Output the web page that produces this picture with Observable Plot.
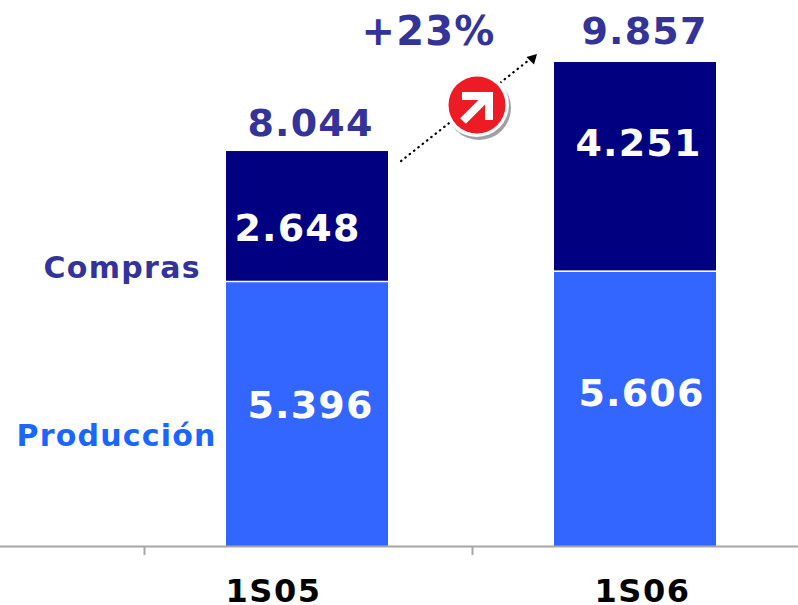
<!DOCTYPE html>
<html>
<head>
<meta charset="utf-8">
<script src="https://cdn.jsdelivr.net/npm/d3@7"></script>
<script src="https://cdn.jsdelivr.net/npm/@observablehq/plot@0.6"></script>
<style>
html,body{margin:0;padding:0;background:#fff}
svg{display:block}
</style>
</head>
<body>
<div id="chart"></div>
<script>
const periods = ["1S05", "1S06"];
const produccion = [5396, 5606];
const compras = [2648, 4251];
const totals = [8044, 9857];
const growthLabel = "+23%";
const seriesNames = ["Producción", "Compras"];

const fmt = v => d3.format(",")(v).replace(",", ".");
const rows = periods.flatMap((p, i) => [
  {period: p, serie: seriesNames[0], value: produccion[i], y1: 0, y2: produccion[i]},
  {period: p, serie: seriesNames[1], value: compras[i], y1: produccion[i], y2: totals[i]}
]);

const FONT = "'DejaVu Sans', Verdana, sans-serif";
const NAVY = "#000080", BLUE = "#3366ff", INK = "#333399";

function spaced(px) {
  return (index, scales, values, dims, ctx, next) => {
    const node = next(index, scales, values, dims, ctx);
    node.style.letterSpacing = px + "px";
    return node;
  };
}
const valueText = (value, period, y, dx, dy, fill) =>
  Plot.text([fmt(value)], {
    x: () => period, y: () => y, text: d => d, dx, dy, fill,
    fontSize: 38, fontWeight: 700, textAnchor: "middle", lineAnchor: "middle",
    render: spaced(1.2)
  });
const cornerText = (text, dx, dy, fill, fontSize, spacing) =>
  Plot.text([text], {
    frameAnchor: "top-left", dx, dy, text: d => d, fill, fontSize,
    fontWeight: 700, textAnchor: "start", lineAnchor: "middle",
    render: spaced(spacing)
  });
const periodText = (period, dx) =>
  Plot.text([period], {
    x: d => d, y: () => 0, text: d => d, dy: 45, dx, fill: "#000",
    fontSize: 32, fontWeight: 700, textAnchor: "middle",
    render: spaced(1.6)
  });

function growthArrow(index, scales) {
  const g = d3.create("svg:g");
  const bw = typeof scales.x.bandwidth === "function" ? scales.x.bandwidth() : scales.x.bandwidth;
  const x0 = scales.x(periods[0]) + bw + 13;
  const y0 = scales.y(totals[0]) + 10;
  const x1 = scales.x(periods[1]) - 17;
  const y1 = scales.y(totals[1]) - 8;
  const cx = 477, cy = 105;
  g.append("line").attr("x1", x0).attr("y1", y0).attr("x2", x1 - 8).attr("y2", y1 + 6)
    .attr("stroke", "#000").attr("stroke-width", 2.2)
    .attr("stroke-linecap", "round").attr("stroke-dasharray", "0.5 5");
  g.append("path").attr("d", `M${x1},${y1}L${x1 - 10.5},${y1 + 3}L${x1 - 3},${y1 + 10.5}Z`).attr("fill", "#000");
  g.append("circle").attr("cx", cx + 2).attr("cy", cy + 3).attr("r", 32).attr("fill", "#a0a0a0");
  g.append("circle").attr("cx", cx - 0.5).attr("cy", cy - 0.5).attr("r", 32.5).attr("fill", "#fff");
  g.append("circle").attr("cx", cx).attr("cy", cy).attr("r", 28.5).attr("fill", "#ed1c24");
  g.append("path").attr("d", `M${cx - 14},${cy + 16}L${cx + 9},${cy - 7}`)
    .attr("stroke", "#fff").attr("stroke-width", 8).attr("fill", "none");
  g.append("path").attr("d", `M${cx - 15},${cy - 9}H${cx + 12}V${cy + 15}`)
    .attr("stroke", "#fff").attr("stroke-width", 8).attr("fill", "none");
  return g.node();
}

const chart = Plot.plot({
  width: 798,
  height: 605,
  marginLeft: 0, marginRight: 0, marginTop: 0, marginBottom: 0,
  style: {fontFamily: FONT, background: "#fff"},
  x: {domain: periods, range: [143, 800], paddingInner: 0.506, paddingOuter: 0.253, align: 0.5, axis: null},
  y: {domain: [0, 11120], range: [546, 0], axis: null},
  marks: [
    Plot.barY(rows, {x: "period", y1: "y1", y2: "y2", fill: d => d.serie === "Compras" ? NAVY : BLUE}),
    Plot.tickY(rows.filter(d => d.serie === "Compras"), {x: "period", y: "y1", stroke: "#fff", strokeWidth: 1.5}),
    Plot.ruleY([0], {stroke: "#a6a6a6", strokeWidth: 2}),
    Plot.ruleX(periods, {x: d => d, y1: 0, y2: -185, dx: -163, stroke: "#a6a6a6", strokeWidth: 2}),
    valueText(compras[0], periods[0], produccion[0] + compras[0] / 2, -10, 12, "#fff"),
    valueText(produccion[0], periods[0], produccion[0] / 2, 3, -8, "#fff"),
    valueText(compras[1], periods[1], produccion[1] + compras[1] / 2, 3, -23, "#fff"),
    valueText(produccion[1], periods[1], produccion[1] / 2, 6, -15, "#fff"),
    valueText(totals[0], periods[0], totals[0], 3, -28, INK),
    valueText(totals[1], periods[1], totals[1], 9, -31, INK),
    periodText(periods[0], -34),
    periodText(periods[1], 7),
    cornerText(seriesNames[1], 43, 268, INK, 30, 1.3),
    cornerText(seriesNames[0], 16, 436, "#1a66ff", 30, 1.2),
    cornerText(growthLabel, 361, 32, INK, 40, 1.2),
    growthArrow
  ]
});
document.getElementById("chart").append(chart);
</script>
</body>
</html>
